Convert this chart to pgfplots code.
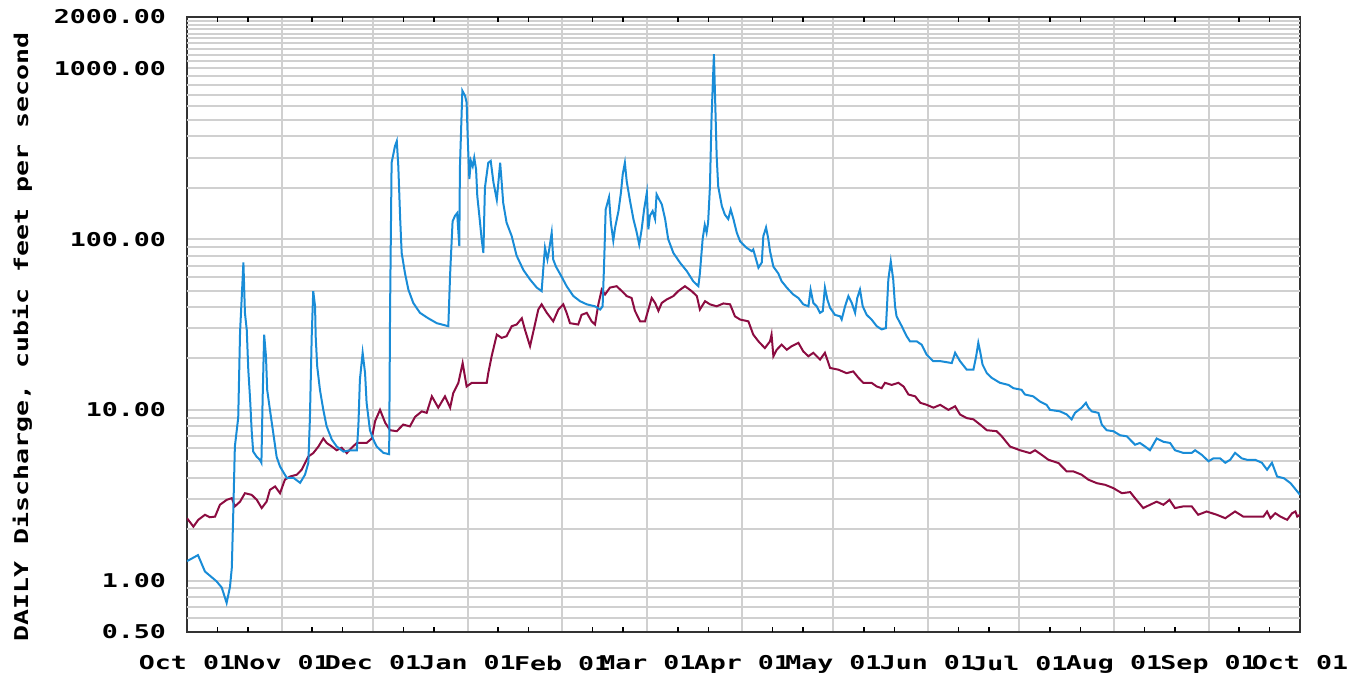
\documentclass[border=0pt]{standalone}
\usepackage{fontspec}
\usepackage{pgfplots}
\pgfplotsset{compat=1.18}
\newfontfamily\chartfont[FakeStretch=1.4]{DejaVu Sans Mono}
\definecolor{flowblue}{RGB}{25,140,215}
\definecolor{medianred}{RGB}{140,12,65}
\definecolor{gridgray}{RGB}{208,208,208}

\begin{document}
\begin{tikzpicture}
\begin{axis}[
  scale only axis,
  width=556.5pt, height=307.5pt,
  ymode=log,
  xmin=0, xmax=365, ymin=0.5, ymax=2000,
  xtick={0,31,61,92,123,151,182,212,243,273,304,335,365},
  xticklabels={Oct 01,Nov 01,Dec 01,Jan 01,Feb 01,Mar 01,Apr 01,May 01,Jun 01,Jul 01,Aug 01,Sep 01,Oct 01},
  ytick={0.5,1,10,100,1000,2000},
  yticklabels={0.50,1.00,10.00,100.00,1000.00,2000.00},
  extra y ticks={0.6,0.7,0.8,0.9,2,3,4,5,6,7,8,9,20,30,40,50,60,70,80,90,200,300,400,500,600,700,800,900,1100,1200,1300,1400,1500,1600,1700,1800,1900},
  extra y tick labels={},
  extra y tick style={ymajorgrids=true},
  xmajorgrids, ymajorgrids,
  major grid style={gridgray, line width=1pt},
  major tick length=0pt, minor tick length=0pt,
  tick pos=both, tick align=inside,
  axis line style={black!80, line width=1.3pt},
  tick label style={font=\chartfont\bfseries\fontsize{9.5}{10}\selectfont},
  xticklabel style={yshift=-8.3pt},
  yticklabel style={xshift=-7pt},
  ylabel={DAILY Discharge, cubic feet per second},
  ylabel style={font=\chartfont\bfseries\fontsize{9.5}{10}\selectfont, at={(axis description cs:-0.148,0.48)}, anchor=center},
]
% small day marks on top and bottom edges
\pgfplotsinvokeforeach{10,20,41,51,71,81,102,112,133,143,161,171,192,202,222,232,253,263,283,293,314,324,345,355}{
  \draw[black, line width=0.9pt] (axis cs:#1,0.5) -- ([yshift=2.5pt]axis cs:#1,0.5);
  \draw[black, line width=0.9pt] (axis cs:#1,2000) -- ([yshift=-2.5pt]axis cs:#1,2000);
}
% median daily flow
\addplot[medianred, line width=1pt] coordinates {
(0,2.32)(2.1,2.07)(3.7,2.27)(5.9,2.43)(7.5,2.35)(9.2,2.37)(10.8,2.78)(13.0,2.97)(14.7,3.04)(15.7,2.72)
(17.4,2.9)(19.0,3.25)(21.2,3.18)(22.9,2.97)(24.5,2.66)(26.1,2.9)(27.2,3.4)(28.9,3.56)(30.5,3.25)(32.1,3.9)
(33.8,4.07)(36.0,4.17)(37.6,4.46)(38.7,4.88)(39.8,5.33)(41.4,5.58)(43.1,6.1)(44.7,6.8)(45.8,6.4)(47.5,6.1)
(49.1,5.8)(50.7,6.0)(52.4,5.58)(54.0,6.0)(55.7,6.4)(57.3,6.4)(58.9,6.4)(60.6,6.8)(61.7,8.6)(63.3,10.0)
(65.0,8.4)(66.6,7.6)(68.8,7.5)(70.9,8.2)(73.1,8.0)(74.8,9.1)(77.0,9.8)(78.6,9.6)(80.3,12.0)(82.4,10.3)
(84.6,12.0)(86.3,10.3)(87.3,12.5)(89.0,14.4)(90.4,18.8)(91.7,13.7)(93.4,14.4)(98.3,14.4)(98.8,16.4)(99.9,20.6)
(101.6,27.6)(103.2,26.4)(104.8,27)(106.5,30.9)(108.1,31.6)(109.8,34.4)(110.8,29.6)(112.5,23.6)(114.1,31.6)(115.2,38.7)
(116.3,41.5)(118.0,37)(120.1,33)(121.8,38.7)(123.4,41.5)(124.5,37)(125.6,32.2)(128.3,31.6)(129.4,36)(131.1,37)
(132.7,33)(133.8,31.6)(134.9,41.5)(136.0,50.6)(137.1,47.4)(138.7,52)(140.9,53)(142.6,49.6)(144.2,46.4)(145.8,45.2)
(146.9,38)(148.6,33)(150.2,33)(151.3,38.7)(152.4,45.2)(153.5,42.3)(154.6,38)(155.7,42.3)(157.3,44.3)(159.5,46.4)
(161.1,49.6)(163.3,53)(165.5,49.6)(167.2,46.4)(168.2,38.7)(169.9,43.3)(171.5,41.5)(173.7,40.4)(175.9,42)(178.1,41.5)
(179.7,35.3)(181.4,33.8)(184.1,33)(185.7,27.6)(187.4,25.2)(189.5,23)(191.2,25.2)(191.7,27.6)(192.3,20.6)(193.4,22.5)
(195.0,24.1)(196.7,22.5)(198.3,23.6)(200.5,24.7)(202.1,22)(203.8,20.6)(205.4,21.6)(207.6,19.7)(209.2,21.6)(210.9,17.6)
(213.6,17.2)(216.3,16.4)(218.5,16.8)(220.2,15.4)(221.8,14.4)(224.5,14.4)(226.2,13.7)(227.8,13.4)(228.9,14.4)(231.1,14.0)
(233.3,14.4)(235.0,13.7)(236.6,12.3)(238.8,12.0)(240.5,11.0)(242.6,10.7)(244.8,10.3)(247.0,10.7)(249.7,10.0)(251.9,10.5)
(253.5,9.4)(255.7,8.95)(257.9,8.8)(260.1,8.2)(262.3,7.6)(265.5,7.5)(267.2,7.0)(269.9,6.1)(273.2,5.8)(276.5,5.58)
(278.1,5.8)(280.3,5.45)(282.5,5.1)(285.8,4.88)(288.5,4.36)(290.7,4.36)(293.4,4.17)(295.6,3.9)(298.4,3.72)(301.1,3.64)
(303.8,3.48)(306.6,3.25)(309.3,3.3)(310.9,3.04)(313.6,2.66)(315.8,2.78)(318.0,2.9)(320.2,2.78)(322.2,2.97)(324.0,2.66)
(326.7,2.72)(329.5,2.72)(331.6,2.43)(334.4,2.54)(337.7,2.43)(340.5,2.32)(343.7,2.54)(346.4,2.37)(349.7,2.37)(353.0,2.37)
(354.2,2.54)(355.3,2.32)(356.9,2.48)(358.6,2.37)(360.8,2.27)(362.4,2.48)(363.5,2.54)(364.1,2.37)(365,2.43)
};
% daily discharge
\addplot[flowblue, line width=1pt] coordinates {
(0,1.3)(3.6,1.41)(5.9,1.13)(9.7,0.99)(11.4,0.91)(13.0,0.74)(14.1,0.92)(14.7,1.19)(15.2,2.6)(15.7,6.1)
(16.8,9.0)(17.4,28.5)(18.5,73)(19.0,37)(19.6,29.4)(20.1,17.2)(20.7,11.5)(21.2,7.6)(21.7,5.7)(22.9,5.3)
(23.9,5.1)(24.4,4.9)(24.8,11.5)(25.3,27.6)(25.9,20.6)(26.3,13.1)(27.2,10)(28.3,7.3)(29.4,5.3)(30.5,4.66)
(32.7,4.0)(34.9,4.0)(37.1,3.74)(38.7,4.17)(39.8,4.9)(40.3,8.8)(40.9,27)(41.4,49.6)(42.0,40.4)(42.2,27)
(42.7,18)(43.6,13.1)(44.7,10)(45.8,8.0)(47.5,6.7)(49.1,6.1)(51.3,5.7)(53.5,5.8)(55.7,5.8)(56.2,8.0)
(56.7,15)(57.6,21.6)(58.4,16.4)(58.9,11)(60.0,7.6)(61.1,6.7)(62.2,6.1)(64.4,5.6)(66.3,5.5)(66.6,38.7)
(67.1,280)(68.2,350)(68.8,375)(69.3,267)(69.9,133)(70.4,83)(71.5,63)(72.6,50.6)(74.2,42.3)(76.4,37)
(79.1,34.4)(81.9,32.2)(85.7,30.9)(86.3,63)(87.1,127)(87.9,137)(88.6,142)(89.3,91)(89.5,262)(90.3,740)
(91.2,690)(91.7,630)(92.1,375)(92.6,225)(93.1,287)(93.7,267)(94.2,300)(94.8,256)(95.2,179)(96.1,125)
(96.6,101)(97.2,83)(97.7,200)(98.8,280)(99.6,287)(100.5,215)(101.6,170)(102.7,280)(103.2,215)(103.7,163)
(104.8,125)(106.5,104)(108.1,80)(110.3,66)(112.5,58)(114.7,52)(116.3,49.6)(116.9,69)(117.4,89)(118.2,76)
(118.7,85)(119.6,109)(120.1,76)(121.0,69)(122.9,60)(124.5,53)(126.7,46.4)(128.9,43.3)(131.1,41.5)(133.8,40.4)
(135.5,38.7)(136.3,40.4)(136.8,72.7)(137.3,149)(138.4,176)(139.0,125)(139.8,98)(140.4,117)(141.5,146)(142.3,187)
(142.9,240)(143.6,280)(144.2,218)(145.3,167)(146.4,131)(147.5,109)(148.3,93)(149.1,114)(149.9,149)(150.8,187)
(151.3,114)(151.8,137)(152.7,146)(153.5,131)(154.0,183)(154.9,170)(155.7,160)(156.8,131)(157.8,100)(159.5,83)
(161.7,72.7)(163.9,65)(166.0,56.7)(167.7,53)(168.2,63)(169.1,100)(169.8,121)(170.4,109)(170.9,125)(171.5,204)
(172.0,500)(172.8,1211)(173.7,307)(174.2,204)(175.4,156)(176.4,139)(177.5,131)(178.3,149)(179.2,131)(180.3,109)
(181.4,97)(183.5,89)(185.2,85)(185.7,87)(187.4,68)(188.5,73)(189.0,104)(189.9,117)(190.6,101)(191.2,85)
(192.3,69)(193.9,63)(195.0,56.7)(196.7,52)(198.8,47.4)(200.5,45.2)(202.1,41.5)(203.8,40.4)(204.5,50.6)(205.4,42.3)
(206.5,40.4)(207.6,37)(208.5,37.9)(209.2,52)(210.0,44.3)(210.9,39.6)(212.5,36)(214.2,35.3)(214.7,33.8)(215.8,40.4)
(216.9,46.4)(218.0,42.3)(219.1,37)(219.8,45.2)(220.7,50.6)(221.6,40.4)(222.9,36)(224.5,33.8)(226.2,30.9)(227.8,29.6)
(229.2,30.1)(230.0,58)(230.8,74)(231.6,58)(232.2,40.4)(232.7,35.3)(234.4,30.9)(236.0,27)(237.1,25.2)(239.3,25.2)
(240.9,24.1)(242.6,21)(244.7,19.3)(247.0,19.3)(250.8,18.8)(251.9,21.6)(253.5,19.3)(255.7,17.2)(257.9,17.2)(258.8,20.6)
(259.5,24.7)(260.1,22.0)(260.9,18.4)(262.3,16.4)(263.9,15.4)(266.6,14.4)(269.4,14.0)(271.0,13.4)(273.7,13.1)(274.8,12.3)
(277.5,12.0)(279.7,11.2)(281.9,10.7)(283.0,10.0)(286.3,9.8)(288.5,9.4)(290.1,8.8)(291.2,9.6)(293.4,10.3)(294.8,11.0)
(295.6,10.3)(296.7,9.8)(298.9,9.6)(300.0,8.2)(301.6,7.6)(303.8,7.5)(306.0,7.1)(308.2,7.0)(310.9,6.25)(312.5,6.4)
(314.2,6.1)(315.8,5.8)(318.0,6.8)(320.2,6.5)(322.4,6.4)(324.0,5.8)(326.7,5.6)(329.5,5.6)(330.6,5.8)(332.8,5.45)
(335.0,5.0)(336.6,5.2)(338.8,5.2)(340.5,4.9)(342.1,5.1)(343.7,5.6)(345.9,5.2)(347.6,5.1)(350.3,5.1)(352.5,4.9)
(354.2,4.46)(355.8,4.9)(357.5,4.07)(359.7,3.98)(361.9,3.72)(364.1,3.33)(365,3.18)
};
\end{axis}
\pgfresetboundingbox
\path[use as bounding box] (current axis.south west) ++(-93.5pt,-24.5pt) rectangle ++(683.5pt,340.5pt);
\end{tikzpicture}
\end{document}
